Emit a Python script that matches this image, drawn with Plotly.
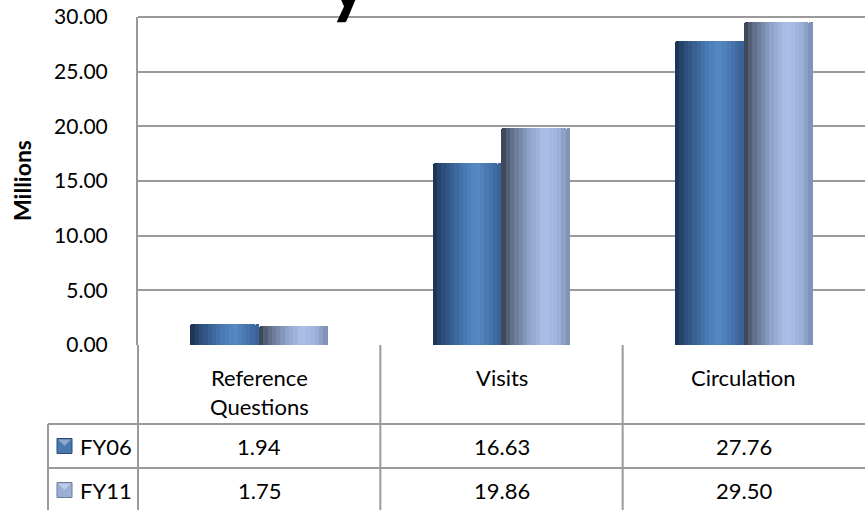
import plotly.graph_objects as go

# ---- data ----
categories = ["Reference Questions", "Visits", "Circulation"]
header_labels = ["Reference<br>Questions", "Visits", "Circulation"]
series_names = ["FY06", "FY11"]
fy06 = [1.94, 16.63, 27.76]
fy11 = [1.75, 19.86, 29.50]
y_title = "Millions"

# ---- layout geometry (pixels) ----
W, H = 865, 510
L, R, T, B = 138, 865, 17, 345
PW, PH = R - L, B - T


def px(x):
    return (x - L) / PW


def py(y):
    return (B - y) / PH


def hex2rgb(h):
    h = h.lstrip("#")
    return [int(h[i:i + 2], 16) for i in (0, 2, 4)]


def gradient(stops, n):
    out = []
    for k in range(n):
        t = (k + 0.5) / n
        for (p0, c0), (p1, c1) in zip(stops[:-1], stops[1:]):
            if p0 <= t <= p1:
                f = (t - p0) / (p1 - p0)
                a, b = hex2rgb(c0), hex2rgb(c1)
                c = [round(a[i] + (b[i] - a[i]) * f) for i in range(3)]
                out.append("rgb(%d,%d,%d)" % tuple(c))
                break
    return out


N = 16
grad06 = gradient([(0, "#1a2f4d"), (0.15, "#2b4e7b"), (0.5, "#4d7eba"),
                   (0.65, "#5689c4"), (0.85, "#4572aa"), (1, "#385f95")], N)
grad11 = gradient([(0, "#363e4c"), (0.12, "#5b6882"), (0.4, "#8ea3c8"),
                   (0.62, "#aac0e8"), (0.82, "#9fb4dc"), (1, "#7a8cb0")], N)

BW = 0.283  # bar width in category units
sw = BW / N

fig = go.Figure()
for vals, grad, start, name in [(fy06, grad06, -BW, series_names[0]),
                                (fy11, grad11, 0.0, series_names[1])]:
    for k in range(N):
        fig.add_trace(go.Bar(
            x=categories, y=vals, name=name,
            offset=start + k * sw - 0.0005, width=sw + 0.001,
            marker=dict(color=grad[k], line=dict(width=0),
                        cornerradius=3 if k in (0, N - 1) else 0),
            showlegend=False, hoverinfo="skip"))

FONT = "Lato"
grid = "#9a9a9a"

fig.update_layout(
    width=W, height=H, autosize=False,
    margin=dict(l=L, r=W - R, t=T, b=H - B),
    paper_bgcolor="white", plot_bgcolor="white",
    barmode="overlay", bargap=0,
    font=dict(family=FONT, color="black", size=20),
    xaxis=dict(type="category", categoryorder="array", categoryarray=categories,
               range=[-0.5, 2.5], showticklabels=False, showgrid=False,
               zeroline=False, showline=False, ticks=""),
    yaxis=dict(range=[0, 30], tick0=0, dtick=5, tickformat=".2f",
               showgrid=True, gridcolor=grid, gridwidth=2,
               showline=True, linecolor=grid, linewidth=2,
               zeroline=False, ticks="", ticklabelstandoff=24,
               tickfont=dict(family=FONT, size=21, color="black")),
)

shapes = []
line = dict(color=grid, width=2)
# top border of plot area
shapes.append(dict(type="line", xref="paper", yref="paper",
                   x0=0, x1=1, y0=1, y1=1, line=line))
# table vertical lines
col_edges = [L + i * PW / 3 for i in range(4)]
for xe in col_edges[:3]:
    shapes.append(dict(type="line", xref="paper", yref="paper",
                       x0=px(xe), x1=px(xe), y0=py(B), y1=py(H + 5), line=line))
# legend cell left border
shapes.append(dict(type="line", xref="paper", yref="paper",
                   x0=px(48), x1=px(48), y0=py(424), y1=py(H + 5), line=line))
# horizontal row lines
for yl in (424, 468):
    shapes.append(dict(type="line", xref="paper", yref="paper",
                       x0=px(48), x1=px(R + 5), y0=py(yl), y1=py(yl), line=line))
# legend keys
key_cols = [("#4a77b0", "#2c4a72"), ("#9aafd6", "#6b7b99")]
for (fill, edge), yc in zip(key_cols, (446, 490)):
    shapes.append(dict(type="rect", xref="paper", yref="paper",
                       x0=px(57), x1=px(72), y0=py(yc - 7.5), y1=py(yc + 7.5),
                       fillcolor=fill, line=dict(color=edge, width=1)))
    shapes.append(dict(type="path", xref="paper", yref="paper",
                       path="M %f,%f L %f,%f L %f,%f Z" % (
                           px(58), py(yc - 6.5), px(71), py(yc - 6.5), px(64.5), py(yc)),
                       fillcolor="rgba(255,255,255,0.35)", line=dict(width=0)))

annotations = []
centers = [(col_edges[i] + col_edges[i + 1]) / 2 for i in range(3)]
for c, lab in zip(centers, header_labels):
    annotations.append(dict(text=lab, xref="paper", yref="paper",
                            x=px(c), y=py(362), xanchor="center", yanchor="top",
                            showarrow=False, align="center",
                            font=dict(family=FONT, size=22, color="black")))
for vals, yc in ((fy06, 446), (fy11, 490)):
    for c, v in zip(centers, vals):
        annotations.append(dict(text="%.2f" % v, xref="paper", yref="paper",
                                x=px(c), y=py(yc), xanchor="center", yanchor="middle",
                                showarrow=False,
                                font=dict(family=FONT, size=22, color="black")))
for nm, yc in zip(series_names, (446, 490)):
    annotations.append(dict(text=nm, xref="paper", yref="paper",
                            x=px(78), y=py(yc), xanchor="left", yanchor="middle",
                            showarrow=False,
                            font=dict(family=FONT, size=22, color="black")))
# y-axis title
annotations.append(dict(text="<b>%s</b>" % y_title, xref="paper", yref="paper",
                        x=px(22), y=py(181), xanchor="center", yanchor="middle",
                        textangle=-90, showarrow=False,
                        font=dict(family=FONT, size=23, color="black")))
# clipped chart title fragment (only its descender is visible in the reference)
annotations.append(dict(text="<b>y</b>", xref="paper", yref="paper",
                        x=px(348), y=py(27), xanchor="center", yanchor="bottom",
                        showarrow=False,
                        font=dict(family=FONT, size=76, color="black")))

fig.update_layout(shapes=shapes, annotations=annotations)
fig.write_html("out.html", config={"displayModeBar": False},
               post_script="document.body.style.margin='0px';")
